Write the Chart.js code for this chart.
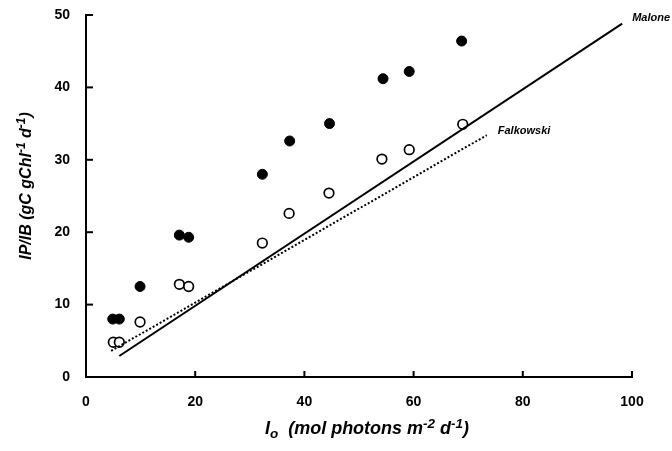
<!DOCTYPE html>
<html>
<head>
<meta charset="utf-8">
<script src="https://cdn.jsdelivr.net/npm/chart.js@4/dist/chart.umd.min.js"></script>
<style>
  html, body { margin: 0; padding: 0; background: #fff; }
  #wrap { width: 672px; height: 451px; }
</style>
</head>
<body>
<div id="wrap"><canvas id="chart" width="672" height="451"></canvas></div>
<script>
// Irradiance (x) and production values
const filledX = [4.9, 6.1, 9.9, 17.1, 18.8, 32.3, 37.3, 44.6, 54.4, 59.2, 68.8];
const filledY = [8.0, 8.0, 12.5, 19.6, 19.3, 28.0, 32.6, 35.0, 41.2, 42.2, 46.4];
const openX = [5.0, 6.1, 9.9, 17.1, 18.8, 32.3, 37.2, 44.5, 54.2, 59.2, 69.0];
const openY = [4.8, 4.8, 7.6, 12.8, 12.5, 18.5, 22.6, 25.4, 30.1, 31.4, 34.9];

// Model lines (end points)
const maloneX = [6.1, 98.2];
const maloneY = [2.9, 48.8];
const falkowskiX = [4.6, 73.4];
const falkowskiY = [3.6, 33.4];

const xTicks = [0, 20, 40, 60, 80, 100];
const yTicks = [0, 10, 20, 30, 40, 50];

function toPoints(xs, ys) {
    return xs.map((x, i) => ({ x: x, y: ys[i] }));
}

// draw a run of text pieces, some raised (sup) or lowered (sub)
function drawRich(ctx, x, y, parts, size) {
    let cx = x;
    parts.forEach(p => {
        const s = p.sup || p.sub ? size * 0.75 : size;
        ctx.font = 'italic bold ' + s + 'px "Liberation Sans", Arial, sans-serif';
        let dy = 0;
        if (p.sup) dy = -size * 0.35;
        if (p.sub) dy = size * 0.2;
        ctx.fillText(p.t, cx, y + dy);
        cx += ctx.measureText(p.t).width;
    });
    return cx - x;
}

function richWidth(ctx, parts, size) {
    let w = 0;
    parts.forEach(p => {
        const s = p.sup || p.sub ? size * 0.75 : size;
        ctx.font = 'italic bold ' + s + 'px "Liberation Sans", Arial, sans-serif';
        w += ctx.measureText(p.t).width;
    });
    return w;
}

const yTitle = [
    { t: 'IP/IB (gC gChl' }, { t: '-1', sup: true }, { t: ' d' }, { t: '-1', sup: true }, { t: ')' }
];
const xTitle = [
    { t: 'I' }, { t: 'o', sub: true }, { t: '  (mol photons m' }, { t: '-2', sup: true },
    { t: ' d' }, { t: '-1', sup: true }, { t: ')' }
];

const decorPlugin = {
    id: 'decor',
    afterDraw(chart) {
        const ctx = chart.ctx;
        const xs = chart.scales.x;
        const ys = chart.scales.y;
        const area = chart.chartArea;
        ctx.save();
        ctx.strokeStyle = '#000';
        ctx.lineWidth = 2;
        // inward tick marks
        xTicks.forEach(v => {
            const px = xs.getPixelForValue(v);
            ctx.beginPath();
            ctx.moveTo(px, area.bottom);
            ctx.lineTo(px, area.bottom - 6);
            ctx.stroke();
        });
        yTicks.forEach(v => {
            const py = ys.getPixelForValue(v);
            ctx.beginPath();
            ctx.moveTo(area.left, py);
            ctx.lineTo(area.left + 7, py);
            ctx.stroke();
        });

        ctx.fillStyle = '#000';
        ctx.textBaseline = 'alphabetic';
        ctx.textAlign = 'left';

        // line labels
        ctx.font = 'italic bold 11px "Liberation Sans", Arial, sans-serif';
        ctx.fillText('Malone', xs.getPixelForValue(maloneX[1]) + 10, ys.getPixelForValue(maloneY[1]) - 3);
        ctx.fillText('Falkowski', xs.getPixelForValue(falkowskiX[1]) + 11, ys.getPixelForValue(falkowskiY[1]) - 1);

        // x title
        const xw = richWidth(ctx, xTitle, 18);
        drawRich(ctx, 367 - xw / 2, 434, xTitle, 18);

        // y title, rotated
        ctx.translate(31, 186);
        ctx.rotate(-Math.PI / 2);
        const yw = richWidth(ctx, yTitle, 16);
        drawRich(ctx, -yw / 2, 0, yTitle, 16);
        ctx.restore();
    }
};

const ctx = document.getElementById('chart').getContext('2d');
new Chart(ctx, {
    type: 'scatter',
    data: {
        datasets: [
            {
                label: 'Falkowski',
                type: 'line',
                data: toPoints(falkowskiX, falkowskiY),
                borderColor: '#000',
                borderWidth: 2,
                borderDash: [2, 2],
                pointRadius: 0,
                fill: false
            },
            {
                label: 'Malone',
                type: 'line',
                data: toPoints(maloneX, maloneY),
                borderColor: '#000',
                borderWidth: 2,
                pointRadius: 0,
                fill: false
            },
            {
                label: 'open',
                data: toPoints(openX, openY),
                backgroundColor: '#fff',
                borderColor: '#000',
                borderWidth: 1.7,
                pointRadius: 4.8
            },
            {
                label: 'filled',
                data: toPoints(filledX, filledY),
                backgroundColor: '#000',
                borderColor: '#000',
                borderWidth: 1,
                pointRadius: 5
            }
        ]
    },
    options: {
        responsive: false,
        animation: false,
        layout: { padding: { left: 0, right: 40, top: 15, bottom: 0 } },
        plugins: {
            legend: { display: false },
            tooltip: { enabled: false }
        },
        scales: {
            x: {
                type: 'linear',
                min: 0,
                max: 100,
                afterFit(scale) {
                    scale.height = 74;
                    scale.paddingLeft = 0;
                    scale.paddingRight = 0;
                },
                afterBuildTicks(scale) { scale.ticks = xTicks.map(v => ({ value: v })); },
                grid: { display: false, drawTicks: false },
                border: { display: true, color: '#000', width: 2 },
                ticks: {
                    padding: 17,
                    color: '#000',
                    font: { family: '"Liberation Sans", Arial, sans-serif', size: 14, weight: 'bold' }
                }
            },
            y: {
                type: 'linear',
                min: 0,
                max: 50,
                afterFit(scale) {
                    scale.width = 86;
                    scale.paddingTop = 0;
                    scale.paddingBottom = 0;
                },
                afterBuildTicks(scale) { scale.ticks = yTicks.map(v => ({ value: v })); },
                grid: { display: false, drawTicks: false },
                border: { display: true, color: '#000', width: 2 },
                ticks: {
                    padding: 16,
                    color: '#000',
                    font: { family: '"Liberation Sans", Arial, sans-serif', size: 14, weight: 'bold' }
                }
            }
        }
    },
    plugins: [decorPlugin]
});
</script>
</body>
</html>
